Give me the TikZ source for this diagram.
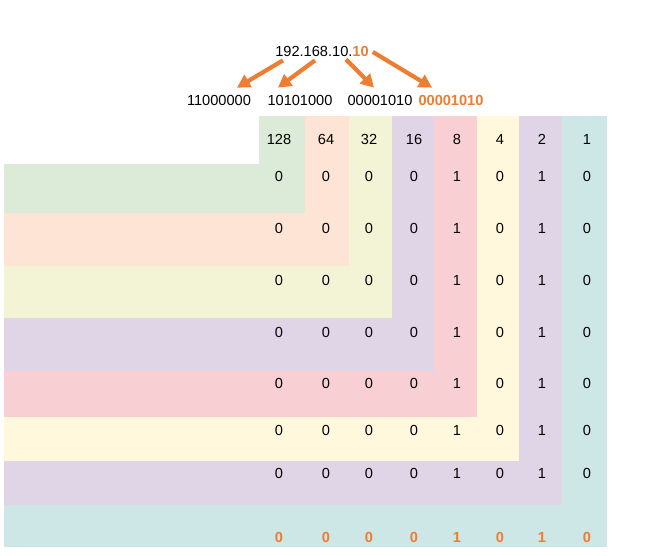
\documentclass[tikz,border=0pt]{standalone}
\usepackage{fontspec}
\setmainfont{Liberation Sans}
\usetikzlibrary{arrows.meta,calc}
\definecolor{orng}{RGB}{237,125,49}
\definecolor{cA}{HTML}{DBEBD8}
\definecolor{cB}{HTML}{FDE4D5}
\definecolor{cC}{HTML}{F2F4D5}
\definecolor{cD}{HTML}{E0D5E6}
\definecolor{cE}{HTML}{F8D0D3}
\definecolor{cF}{HTML}{FFF8DC}
\definecolor{cG}{HTML}{E0D5E6}
\definecolor{cH}{HTML}{CDE7E6}
\begin{document}
\begin{tikzpicture}[x=1pt,y=-1pt,
  num/.style={font=\fontsize{14.6}{16}\selectfont, inner sep=0pt, anchor=center},
  onum/.style={num, text=orng, font=\fontsize{14.6}{16}\selectfont\bfseries},
  arr/.style={draw=orng, line width=4.2pt, -{Triangle[length=13pt,width=14pt]}}]
\useasboundingbox (0,0) rectangle (653,556);
% colour L shapes
\def\colx{{259,305,349,392,434,477,519,562,607}}
\def\rowy{{164,213,266,318,371,417,461,505,547}}
\foreach \i/\c in {0/cA,1/cB,2/cC,3/cD,4/cE,5/cF,6/cG,7/cH}{
  \pgfmathsetmacro{\xl}{\colx[\i]}
  \pgfmathsetmacro{\xr}{\colx[\i+1]}
  \pgfmathsetmacro{\yt}{\rowy[\i]}
  \pgfmathsetmacro{\yb}{\rowy[\i+1]}
  \fill[\c] (\xl,116) rectangle (\xr,\yb);
  \fill[\c] (4,\yt) rectangle (\xr,\yb);
}
% header
\foreach \v/\x [count=\k] in {128/279,64/326,32/369,16/414,8/457,4/500,2/542,1/587}
  \node[num] (h\k) at (\x,139) {\v};
% data rows
\foreach \y [count=\r] in {176,228,280,332,383,430,473}{
  \foreach \v/\x [count=\k] in {0/279,0/326,0/369,0/414,1/457,0/500,1/542,0/587}
    \node[num] (d\r-\k) at (\x,\y) {\v};
}
% result row
\foreach \v/\x [count=\k] in {0/279,0/326,0/369,0/414,1/457,0/500,1/542,0/587}
  \node[onum] (res\k) at (\x,537) {\v};
% IP and binary
\node[num] (ip) at (322,51) {192.168.10.{\color{orng}\bfseries 10}};
\node[num] (b1) at (219,100) {11000000};
\node[num] (b2) at (300,100) {10101000};
\node[num] (b3) at (380,100) {00001010};
\node[onum] (b4) at (451,100) {00001010};
\draw[arr] ($(ip.south)+(-39,4)$) -- ($(b1.north)+(18,-7)$);
\draw[arr] ($(ip.south)+(-7,4)$) -- ($(b2.north)+(-22,-7)$);
\draw[arr] ($(ip.south)+(24,3)$) -- ($(b3.north)+(-6,-7)$);
\draw[arr] ($(ip.east)+(4,1)$) -- ($(b4.north)+(-19,-7)$);
\end{tikzpicture}
\end{document}
